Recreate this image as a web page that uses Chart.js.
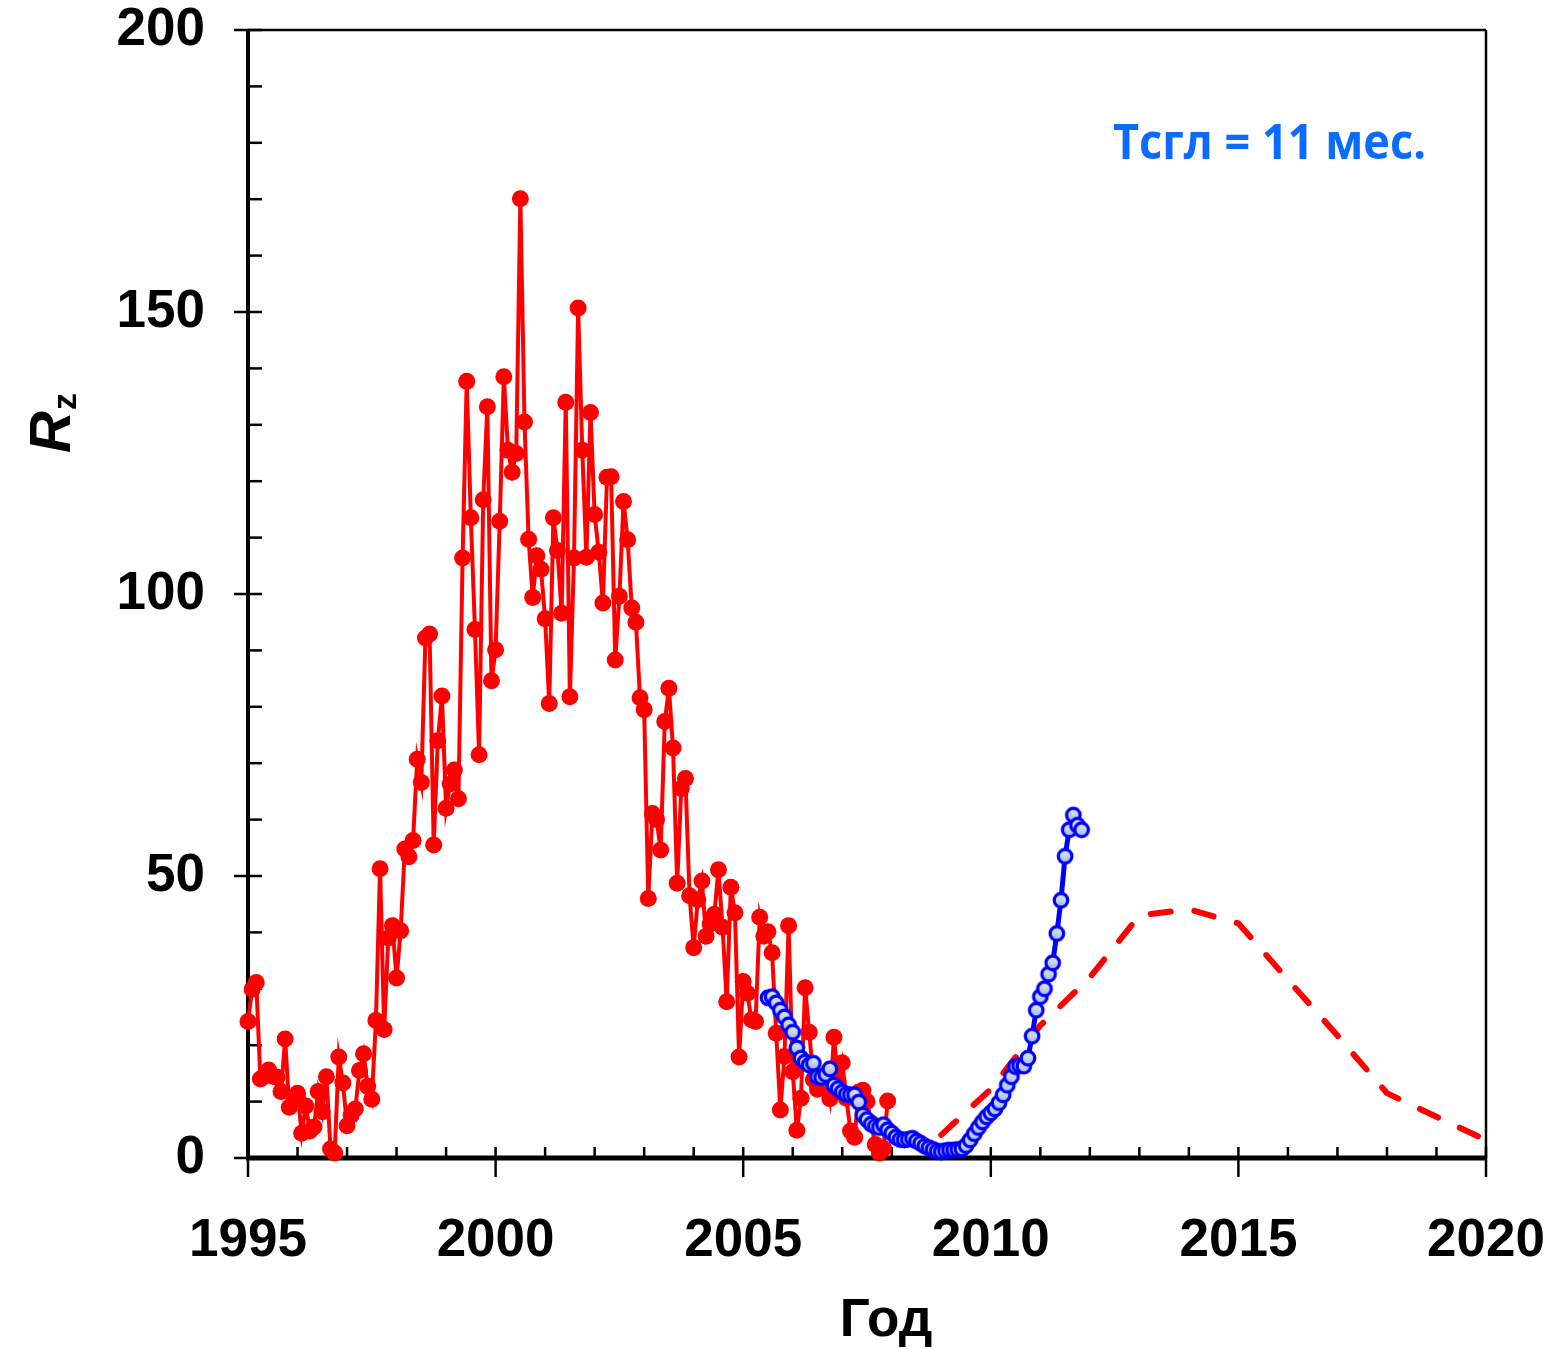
<!DOCTYPE html>
<html>
<head>
<meta charset="utf-8">
<title>Rz</title>
<script src="https://cdn.jsdelivr.net/npm/chart.js@4.4.1/dist/chart.umd.min.js"></script>
<style>
  html, body { margin: 0; padding: 0; background: #fff; }
  canvas { display: block; }
</style>
</head>
<body>
<canvas id="rzChart" width="1560" height="1349"></canvas>
<script>
// monthly sunspot number, Jan 1995 .. Dec 2007
const monthlyStart = 1995;
const monthlyRz = [
  24.2, 29.9, 31.1, 14.0, 14.5, 15.6, 14.5, 14.3, 11.8, 21.1, 9.0, 10.0,
  11.5, 4.4, 9.2, 4.8, 5.5, 11.8, 8.2, 14.4, 1.6, 0.9, 17.9, 13.3,
  5.7, 7.6, 8.7, 15.5, 18.5, 12.7, 10.4, 24.4, 51.3, 22.8, 39.0, 41.2,
  31.9, 40.3, 54.8, 53.4, 56.3, 70.7, 66.6, 92.2, 92.9, 55.5, 74.0, 81.9,
  62.0, 66.3, 68.8, 63.7, 106.4, 137.7, 113.5, 93.7, 71.5, 116.7, 133.2, 84.6,
  90.1, 112.9, 138.5, 125.5, 121.6, 124.9, 170.1, 130.5, 109.7, 99.4, 106.8, 104.4,
  95.6, 80.6, 113.5, 107.7, 96.6, 134.0, 81.8, 106.4, 150.7, 125.5, 106.5, 132.2,
  114.1, 107.4, 98.4, 120.7, 120.8, 88.3, 99.6, 116.4, 109.6, 97.5, 95.0, 81.6,
  79.5, 46.0, 61.1, 60.0, 54.6, 77.4, 83.3, 72.7, 48.7, 65.5, 67.3, 46.5,
  37.3, 45.8, 49.1, 39.3, 41.5, 43.2, 51.1, 40.9, 27.7, 48.0, 43.5, 17.9,
  31.3, 29.2, 24.5, 24.2, 42.7, 39.3, 40.1, 36.4, 22.1, 8.5, 18.0, 41.2,
  15.3, 4.9, 10.6, 30.2, 22.3, 13.9, 12.2, 12.9, 14.4, 10.5, 21.4, 13.6,
  16.9, 10.6, 4.8, 3.7, 11.7, 12.0, 10.0, 6.2, 2.4, 0.9, 1.7, 10.1
];

// smoothed over 11 months, Jul 2005 .. Nov 2011
const smoothStart = 2005.5;
const smoothedRz = [
  28.4, 28.6, 27.5, 26.2, 25.0, 23.6,
  22.3, 19.5, 17.7, 17.0, 16.5, 16.8, 14.4, 14.3, 14.8, 15.8, 12.9, 12.3,
  11.7, 11.3, 11.2, 11.2, 9.9, 7.6, 6.8, 6.0, 5.6, 5.4, 5.9, 5.0,
  4.4, 3.7, 3.3, 3.2, 3.3, 3.5, 3.0, 2.6, 2.1, 1.8, 1.5, 1.2,
  1.1, 1.3, 1.4, 1.4, 1.5, 1.6, 2.2, 3.2, 4.3, 5.4, 6.4, 7.3,
  8.0, 8.7, 9.8, 11.2, 12.9, 14.4, 16.2, 16.4, 16.3, 17.7, 21.6, 26.2,
  28.6, 30.0, 32.6, 34.6, 39.8, 45.7, 53.5, 58.2, 60.8, 59.0, 58.2
];

// forecast for cycle 24, yearly nodes
const forecastYears = [2009, 2010, 2011, 2012, 2013, 2014, 2015, 2016, 2017, 2018, 2019, 2020];
const forecastRz = [4.1, 12.2, 23.5, 32.0, 43.0, 44.1, 41.6, 31.6, 21.7, 11.5, 7.3, 3.2];

const yearTicks = [1995, 2000, 2005, 2010, 2015, 2020];
const rzTicks = [0, 50, 100, 150, 200];

const monthlyPts = monthlyRz.map((v, i) => ({ x: monthlyStart + i / 12, y: v }));
const smoothPts = smoothedRz.map((v, i) => ({ x: smoothStart + i / 12, y: v }));
const forecastPts = forecastYears.map((yr, i) => ({ x: yr, y: forecastRz[i] }));

// blue marker with a soft gradient fill
function ringMarker() {
  const c = document.createElement('canvas');
  c.width = 20;
  c.height = 20;
  const g = c.getContext('2d');
  const grad = g.createLinearGradient(0, 3, 0, 17);
  grad.addColorStop(0, '#e8eef9');
  grad.addColorStop(1, '#9fb7e3');
  g.beginPath();
  g.arc(10, 10, 6.8, 0, Math.PI * 2);
  g.fillStyle = grad;
  g.fill();
  g.lineWidth = 3.2;
  g.strokeStyle = '#0000ff';
  g.stroke();
  return c;
}

const FONT = '"Liberation Sans", Arial, sans-serif';

// frame, inner ticks and the text around the plot
const axesFrame = {
  id: 'axesFrame',
  beforeDatasetsDraw(chart) {
    const { ctx, chartArea: a, scales: { x, y } } = chart;
    const line = (x1, y1, x2, y2) => {
      ctx.beginPath();
      ctx.moveTo(x1, y1);
      ctx.lineTo(x2, y2);
      ctx.stroke();
    };
    ctx.save();
    ctx.strokeStyle = '#000';

    ctx.lineWidth = 2.5;
    line(a.left, a.top, a.right, a.top);
    line(a.right, a.top, a.right, a.bottom);

    for (let v = 0; v <= 200; v += 10) {
      const py = y.getPixelForValue(v);
      if (rzTicks.includes(v)) line(a.left - 14, py, a.left + 14, py);
      else line(a.left, py, a.left + 14, py);
    }
    for (let yr = 1995; yr <= 2020; yr++) {
      const px = x.getPixelForValue(yr);
      if (yearTicks.includes(yr)) line(px, a.bottom - 11, px, a.bottom + 19);
      else line(px, a.bottom - 11, px, a.bottom);
    }

    ctx.lineWidth = 4;
    line(a.left, a.top - 1, a.left, a.bottom + 2);
    ctx.lineWidth = 5;
    line(a.left - 2, a.bottom, a.right + 1, a.bottom);
    ctx.restore();
  },
  afterDraw(chart) {
    const { ctx } = chart;
    ctx.save();
    ctx.fillStyle = '#000';
    ctx.textBaseline = 'alphabetic';

    // x title
    ctx.font = 'bold 53px ' + FONT;
    ctx.textAlign = 'center';
    ctx.fillText('Год', 886, 1336);

    // y title R with subscript z, turned on its side
    ctx.save();
    ctx.translate(70, 453);
    ctx.rotate(-Math.PI / 2);
    ctx.textAlign = 'left';
    ctx.font = 'bold italic 58px ' + FONT;
    ctx.fillText('R', 0, 0);
    const rw = ctx.measureText('R').width;
    ctx.font = 'bold 34px ' + FONT;
    ctx.fillText('z', rw + 1, 6);
    ctx.restore();

    // smoothing window note
    ctx.save();
    ctx.font = 'bold 49px "Open Sans", sans-serif';
    ctx.fillStyle = '#0b6bff';
    ctx.textAlign = 'left';
    const note = 'Тсгл = 11 мес.';
    const w = ctx.measureText(note).width;
    ctx.translate(1113, 159);
    ctx.scale(313 / w, 1);
    ctx.fillText(note, 0, 0);
    ctx.restore();

    ctx.restore();
  }
};

new Chart(document.getElementById('rzChart'), {
  type: 'line',
  data: {
    datasets: [
      {
        label: 'smoothed',
        data: smoothPts,
        borderColor: '#0000ff',
        borderWidth: 5,
        pointStyle: ringMarker(),
        pointRadius: 7,
        tension: 0,
        clip: false,
        order: 1
      },
      {
        label: 'forecast',
        data: forecastPts,
        borderColor: '#ff0000',
        borderWidth: 6,
        borderDash: [20, 24],
        borderCapStyle: 'round',
        borderJoinStyle: 'round',
        pointRadius: 0,
        tension: 0,
        clip: false,
        order: 2
      },
      {
        label: 'monthly',
        data: monthlyPts,
        borderColor: '#ff0000',
        borderWidth: 4,
        pointRadius: 8.5,
        pointBackgroundColor: '#ff0000',
        pointBorderWidth: 0,
        tension: 0,
        clip: false,
        order: 3
      }
    ]
  },
  options: {
    responsive: false,
    animation: false,
    devicePixelRatio: 1,
    layout: { padding: { top: 30, right: 74, left: 0, bottom: 0 } },
    plugins: { legend: { display: false }, tooltip: { enabled: false } },
    scales: {
      x: {
        type: 'linear',
        min: 1995,
        max: 2020,
        grid: { display: false, drawTicks: false },
        border: { display: false },
        afterBuildTicks: s => { s.ticks = yearTicks.map(v => ({ value: v })); },
        afterFit: s => {
          s.height = 1349 - 1158;
          s.paddingLeft = 0;
          s.paddingRight = 0;
        },
        ticks: {
          padding: 52,
          maxRotation: 0,
          color: '#000',
          font: { family: FONT, size: 53, weight: 'bold' },
          callback: v => String(v)
        }
      },
      y: {
        min: 0,
        max: 200,
        grid: { display: false, drawTicks: false },
        border: { display: false },
        afterBuildTicks: s => { s.ticks = rzTicks.map(v => ({ value: v })); },
        afterFit: s => {
          s.width = 248;
          s.paddingTop = 0;
          s.paddingBottom = 0;
        },
        ticks: {
          padding: 43,
          color: '#000',
          font: { family: FONT, size: 53, weight: 'bold' },
          callback: v => String(v)
        }
      }
    }
  },
  plugins: [axesFrame]
});
</script>
</body>
</html>
